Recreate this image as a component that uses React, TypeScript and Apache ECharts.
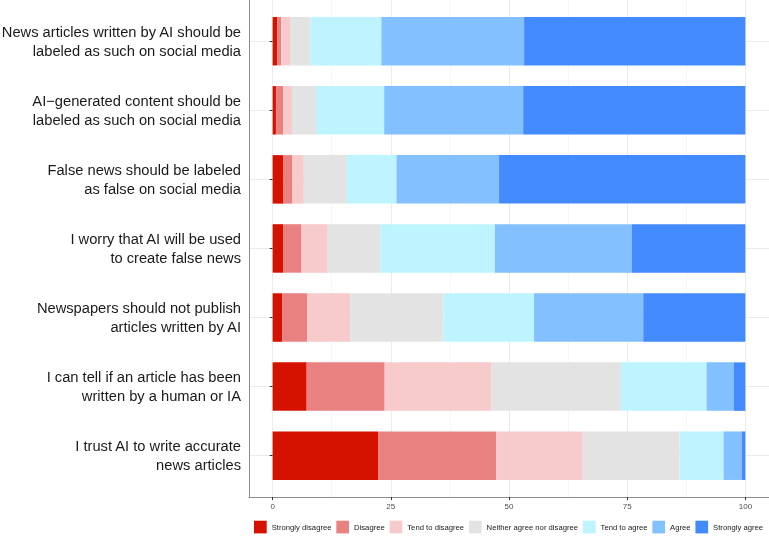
import React, { useEffect, useRef } from "react";
import * as echarts from "echarts";

const categories = [
  "News articles written by AI should be\nlabeled as such on social media",
  "AI\u2212generated content should be\nlabeled as such on social media",
  "False news should be labeled\nas false on social media",
  "I worry that AI will be used\nto create false news",
  "Newspapers should not publish\narticles written by AI",
  "I can tell if an article has been\nwritten by a human or IA",
  "I trust AI to write accurate\nnews articles",
];

const levels = [
  "Strongly disagree",
  "Disagree",
  "Tend to disagree",
  "Neither agree nor disagree",
  "Tend to agree",
  "Agree",
  "Strongly agree",
];

const stronglyDisagree = [1.0, 0.7, 2.3, 2.2, 2.0, 7.2, 22.3];
const disagree = [0.8, 1.5, 1.9, 3.9, 5.3, 16.5, 25.0];
const tendToDisagree = [2.0, 1.9, 2.4, 5.4, 9.1, 22.6, 18.3];
const neither = [4.2, 5.1, 9.1, 11.3, 19.7, 27.4, 20.5];
const tendToAgree = [15.0, 14.4, 10.5, 24.2, 19.2, 18.1, 9.3];
const agree = [30.2, 29.4, 21.7, 29.0, 23.1, 5.8, 3.8];
const stronglyAgree = [46.8, 47.0, 52.1, 24.0, 21.6, 2.4, 0.8];

const xTicks = [0, 25, 50, 75, 100];

const seriesValues = [
  stronglyDisagree,
  disagree,
  tendToDisagree,
  neither,
  tendToAgree,
  agree,
  stronglyAgree,
];

const colors = [
  "#D51100",
  "#E98181",
  "#F7CACC",
  "#E3E3E3",
  "#BEF4FF",
  "#82C0FF",
  "#448AFF",
];

const FONT = "'Liberation Sans', Arial, Helvetica, sans-serif";

export default function App() {
  const ref = useRef<HTMLDivElement>(null);

  useEffect(() => {
    if (!ref.current) return;
    const chart = echarts.init(ref.current, undefined, { renderer: "svg" });
    const option: any = {
      animation: false,
      textStyle: { fontFamily: FONT },
      color: colors,
      grid: [
        { left: 249, right: 0, top: 41.2, bottom: 538 - 455.7, containLabel: false, outerBoundsMode: "none" },
        { left: 272.6, right: 23.6, top: 0, bottom: 41, containLabel: false, outerBoundsMode: "none" },
        { left: 249, right: 0, top: 0, bottom: 41, containLabel: false, outerBoundsMode: "none" },
      ],
      xAxis: [
        { gridIndex: 0, type: "value", min: -5, max: 105, show: false },
        {
          gridIndex: 1,
          type: "value",
          min: xTicks[0],
          max: xTicks[xTicks.length - 1],
          interval: 25,
          axisLine: { show: false },
          axisTick: { show: true, length: 3, lineStyle: { color: "#333333", width: 1 } },
          axisLabel: {
            show: true,
            fontSize: 8,
            color: "#4D4D4D",
            margin: 5,
            fontFamily: FONT,
          },
          splitLine: { show: true, lineStyle: { color: "#EBEBEB", width: 1 } },
          minorTick: { show: false, splitNumber: 2 },
          minorSplitLine: { show: true, lineStyle: { color: "#F2F2F2", width: 0.6 } },
        },
        {
          gridIndex: 2,
          type: "value",
          min: 0,
          max: 1,
          axisLine: { show: true, lineStyle: { color: "#8C8C8C", width: 1 } },
          axisTick: { show: false },
          axisLabel: { show: false },
          splitLine: { show: false },
        },
      ],
      yAxis: [
        {
          gridIndex: 0,
          type: "category",
          data: categories,
          inverse: true,
          boundaryGap: false,
          axisLine: { show: false },
          axisTick: { show: true, length: 3, lineStyle: { color: "#333333", width: 1 } },
          axisLabel: {
            show: true,
            fontSize: 14.7,
            lineHeight: 19,
            color: "#1A1A1A",
            margin: 8,
            align: "right",
            fontFamily: FONT,
          },
          splitLine: { show: true, lineStyle: { color: "#EBEBEB", width: 1 } },
        },
        { gridIndex: 1, type: "value", min: 0, max: 1, show: false },
        {
          gridIndex: 2,
          type: "value",
          min: 0,
          max: 1,
          axisLine: { show: true, lineStyle: { color: "#8C8C8C", width: 1 } },
          axisTick: { show: false },
          axisLabel: { show: false },
          splitLine: { show: false },
        },
      ],
      legend: {
        show: true,
        left: 254,
        top: 520.7,
        width: 515,
        padding: 0,
        icon: "rect",
        itemWidth: 12.7,
        itemHeight: 12.7,
        itemGap: 4.8,
        data: levels,
        textStyle: { fontSize: 7.7, color: "#1A1A1A", fontFamily: FONT },
      },
      series: levels.map((name, i) => ({
        name,
        type: "bar",
        stack: "total",
        xAxisIndex: 0,
        yAxisIndex: 0,
        barWidth: 48.5,
        clip: false,
        data: seriesValues[i],
        itemStyle: { color: colors[i] },
        emphasis: { disabled: true },
      })),
    };
    chart.setOption(option);
    return () => chart.dispose();
  }, []);

  return (
    <div
      ref={ref}
      style={{ position: "fixed", left: 0, top: 0, width: 769, height: 538 }}
    />
  );
}
